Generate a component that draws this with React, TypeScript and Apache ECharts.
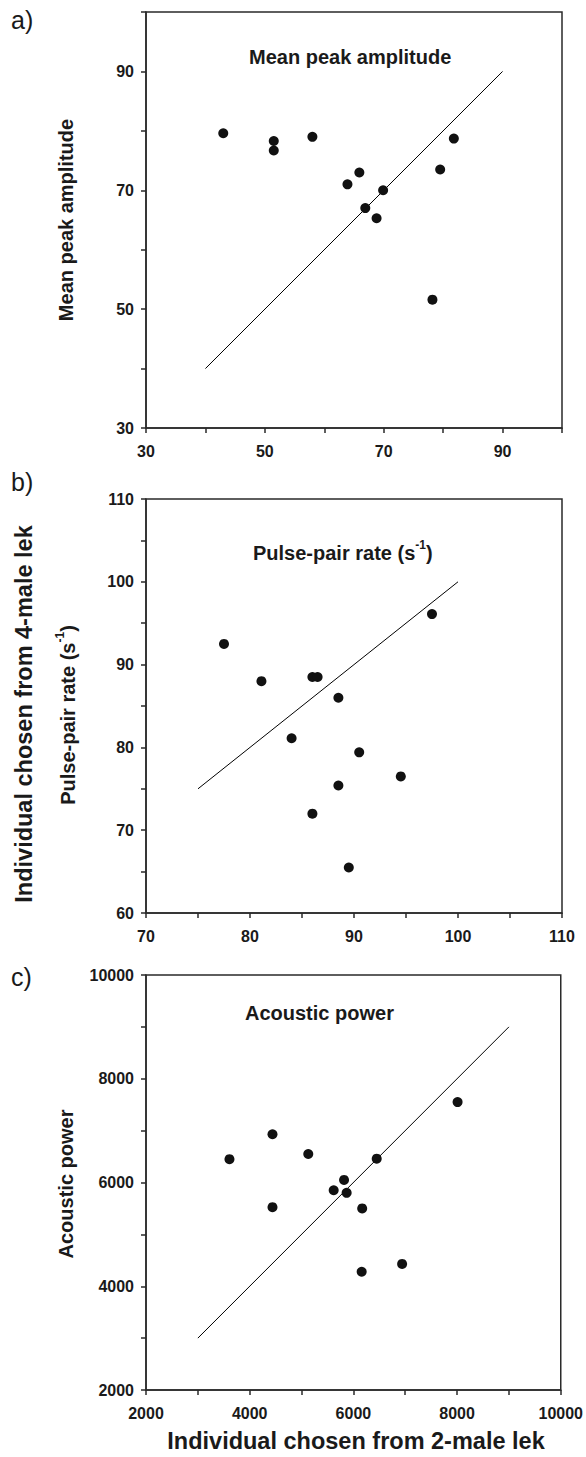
import React, { useEffect, useRef } from "react";
import * as echarts from "echarts";

// Panel a: Mean peak amplitude
const aX = [43.0, 51.5, 51.5, 58.0, 63.9, 65.9, 66.9, 68.8, 69.9, 78.2, 79.5, 81.8];
const aY = [79.6, 78.3, 76.7, 79.0, 71.0, 73.0, 67.0, 65.3, 70.0, 51.6, 73.5, 78.7];
const aLine = [40, 90];

// Panel b: Pulse-pair rate
const bX = [77.5, 81.1, 86.0, 86.5, 88.5, 84.0, 90.5, 94.5, 88.5, 86.0, 89.5, 97.5];
const bY = [92.5, 88.0, 88.5, 88.5, 86.0, 81.1, 79.4, 76.5, 75.4, 72.0, 65.5, 96.1];
const bLine = [75, 100];

// Panel c: Acoustic power
const cX = [3610, 4440, 4440, 5130, 5620, 5820, 5870, 6170, 6160, 6450, 6940, 8010];
const cY = [6450, 6930, 5525, 6550, 5850, 6050, 5800, 5500, 4280, 6460, 4430, 7550];
const cLine = [3000, 9000];

const panelTitles = ["Mean peak amplitude", "Pulse-pair rate", "Acoustic power"];
const panelLetters = ["a)", "b)", "c)"];

const FONT = '"Liberation Sans", Arial, Helvetica, sans-serif';
const INK = "#1a1a1a";
const AXIS = "#2a2a2a";

export default function App() {
  const ref = useRef<HTMLDivElement>(null);
  useEffect(() => {
    document.body.style.margin = "0";
    const chart = echarts.init(ref.current!, undefined, { renderer: "svg" });

    const grids = [
      { left: 146, top: 12, width: 416, height: 416 },
      { left: 146, top: 499, width: 416, height: 414 },
      { left: 146, top: 975, width: 416, height: 415 },
    ].map((g) => ({
      ...g,
      show: true,
      borderColor: AXIS,
      borderWidth: 1.5,
      backgroundColor: "transparent",
    }));

    const mkAxis = (
      gi: number,
      min: number,
      max: number,
      interval: number,
      labelStep: number,
      isY: boolean
    ) => ({
      type: "value",
      gridIndex: gi,
      min,
      max,
      interval,
      axisLine: { show: true, onZero: false, lineStyle: { color: AXIS, width: 1.5 } },
      axisTick: { show: true, inside: false, length: 5, lineStyle: { color: AXIS, width: 1.5 } },
      splitLine: { show: false },
      axisLabel: {
        show: true,
        margin: isY ? 12 : 15,
        color: INK,
        fontSize: 16,
        fontWeight: "bold",
        fontFamily: FONT,
        showMinLabel: true,
        showMaxLabel: true,
        formatter: (v: number) =>
          Math.abs(((v - min) / labelStep) - Math.round((v - min) / labelStep)) < 1e-6 ? String(v) : "",
      },
    });

    const xAxis = [
      mkAxis(0, 30, 100, 10, 20, false),
      mkAxis(1, 70, 110, 5, 10, false),
      mkAxis(2, 2000, 10000, 1000, 2000, false),
    ];
    const yAxis = [
      mkAxis(0, 30, 100, 10, 20, true),
      mkAxis(1, 60, 110, 5, 10, true),
      mkAxis(2, 2000, 10000, 1000, 2000, true),
    ];

    const datasets = [
      { xs: aX, ys: aY, line: aLine },
      { xs: bX, ys: bY, line: bLine },
      { xs: cX, ys: cY, line: cLine },
    ];

    const series: any[] = [];
    datasets.forEach((d, i) => {
      series.push({
        type: "line",
        xAxisIndex: i,
        yAxisIndex: i,
        data: d.line.map((v) => [v, v]),
        symbol: "none",
        lineStyle: { color: "#000", width: 1 },
        silent: true,
        z: 2,
      });
      series.push({
        type: "scatter",
        xAxisIndex: i,
        yAxisIndex: i,
        data: d.xs.map((x, k) => [x, d.ys[k]]),
        symbol: "circle",
        symbolSize: 10,
        itemStyle: { color: "#111", opacity: 1 },
        z: 3,
      });
    });

    const textBold = (size: number) => ({
      fontFamily: FONT,
      fontWeight: "bold",
      fontSize: size,
      fill: INK,
    });

    const graphic: any[] = [
      // panel letters
      ...[20, 482, 977].map((y, i) => ({
        type: "text",
        x: 11,
        y,
        style: {
          text: panelLetters[i],
          fontFamily: FONT,
          fontSize: 25,
          fill: INK,
          align: "left",
          verticalAlign: "middle",
        },
      })),
      // inner titles
      {
        type: "text",
        x: 249,
        y: 57,
        style: { text: panelTitles[0], ...textBold(20), align: "left", verticalAlign: "middle" },
      },
      {
        type: "text",
        x: 253,
        y: 551,
        style: {
          text: "{n|" + panelTitles[1] + " (s}{s|-1}{n|)}",
          align: "left",
          verticalAlign: "middle",
          rich: {
            n: { ...textBold(20), lineHeight: 24, verticalAlign: "bottom" },
            s: { ...textBold(12), lineHeight: 24, verticalAlign: "top" },
          },
        },
      },
      {
        type: "text",
        x: 245,
        y: 1013,
        style: { text: panelTitles[2], ...textBold(20), align: "left", verticalAlign: "middle" },
      },
      // y axis titles (rotated)
      {
        type: "text",
        x: 66,
        y: 220,
        rotation: Math.PI / 2,
        style: { text: panelTitles[0], ...textBold(20), align: "center", verticalAlign: "middle" },
      },
      {
        type: "text",
        x: 66,
        y: 715,
        rotation: Math.PI / 2,
        style: {
          text: "{n|" + panelTitles[1] + " (s}{s|-1}{n|)}",
          align: "center",
          verticalAlign: "middle",
          rich: {
            n: { ...textBold(20), lineHeight: 24, verticalAlign: "bottom" },
            s: { ...textBold(12), lineHeight: 24, verticalAlign: "top" },
          },
        },
      },
      {
        type: "text",
        x: 66,
        y: 1184,
        rotation: Math.PI / 2,
        style: { text: panelTitles[2], ...textBold(20), align: "center", verticalAlign: "middle" },
      },
      {
        type: "text",
        x: 24,
        y: 714,
        rotation: Math.PI / 2,
        style: {
          text: "Individual chosen from 4-male lek",
          ...textBold(23.5),
          align: "center",
          verticalAlign: "middle",
        },
      },
      {
        type: "text",
        x: 356,
        y: 1441,
        style: {
          text: "Individual chosen from 2-male lek",
          ...textBold(23.5),
          align: "center",
          verticalAlign: "middle",
        },
      },
    ];

    chart.setOption({
      animation: false,
      backgroundColor: "#fff",
      grid: grids,
      xAxis,
      yAxis,
      series,
      graphic,
    });
    return () => chart.dispose();
  }, []);
  return <div ref={ref} style={{ width: 586, height: 1457 }} />;
}
